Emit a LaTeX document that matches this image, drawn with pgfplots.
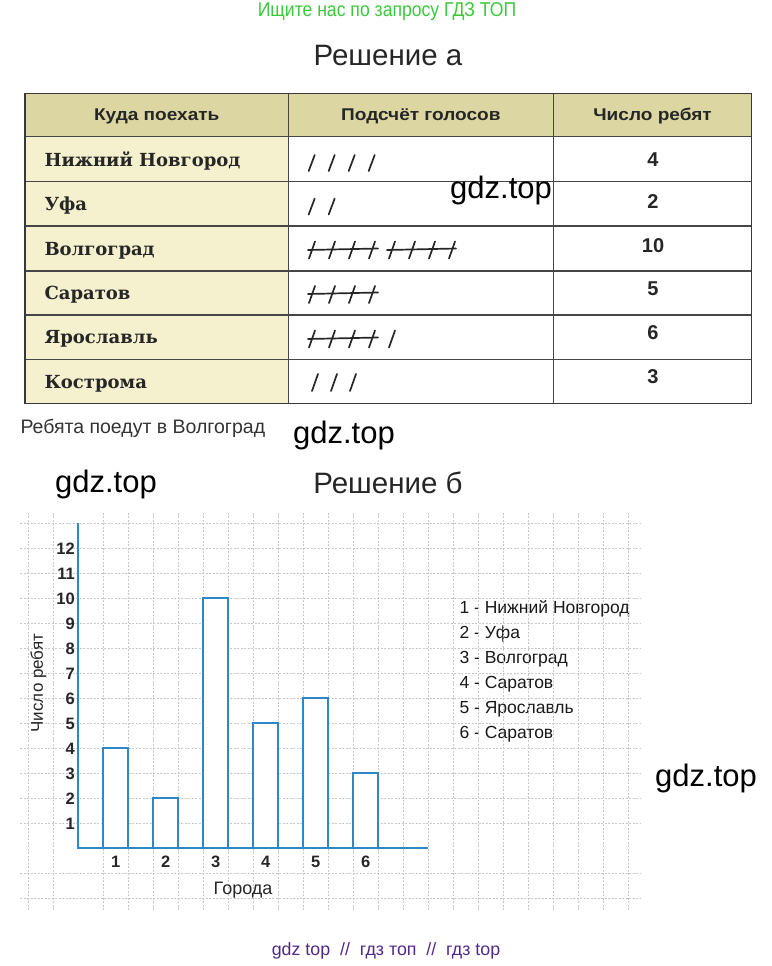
\documentclass[border=0pt]{standalone}
\usepackage{fontspec}
\setmainfont{Liberation Sans}
\newfontfamily\serifb{DejaVu Serif}
\newfontfamily\headf[FakeStretch=1.12]{Liberation Sans}
\newfontfamily\narrowf[FakeStretch=0.88]{Liberation Sans}
\usepackage{pgfplots}
\pgfplotsset{compat=1.18}

\definecolor{barblue}{RGB}{47,134,200}
\definecolor{gridgray}{RGB}{200,200,200}
\definecolor{hdr}{RGB}{220,215,162}
\definecolor{colone}{RGB}{245,240,205}
\definecolor{wmgreen}{RGB}{60,200,60}
\definecolor{purp}{RGB}{80,40,140}
\definecolor{lineg}{RGB}{70,70,70}
\newcommand\fs[1]{\fontsize{#1bp}{#1bp}\selectfont}

\begin{document}
\begin{tikzpicture}
\begin{scope}[x=1bp,y=-1bp]
\path[use as bounding box] (0,0) rectangle (772,966);

% top texts
\node[font=\narrowf\fs{20}, text=wmgreen] at (387,12) {Ищите нас по запросу ГДЗ ТОП};
\node[font=\fs{29.5}, text=black!85] at (388,55) {Решение а};

% table
\fill[hdr] (25,93.3) rectangle (751.7,136.7);
\fill[colone] (25,136.7) rectangle (288.3,403.3);
\foreach \yy in {136.7,181.7,226,271,315,359.3}
  \draw[lineg, line width=1.2] (25,\yy) -- (751.7,\yy);
\draw[lineg, line width=1.2] (288.3,93.3) -- (288.3,403.3);
\draw[lineg, line width=1.2] (553.3,93.3) -- (553.3,403.3);
\draw[lineg!80!black, line width=1.4] (25,93.3) rectangle (751.7,403.3);

\node[font=\headf\bfseries\fs{17}, text=black!85] at (156.7,116) {Куда поехать};
\node[font=\headf\bfseries\fs{17}, text=black!85] at (420.8,116) {Подсчёт голосов};
\node[font=\headf\bfseries\fs{17}, text=black!85] at (652.5,116) {Число ребят};

\begin{scope}[every node/.style={anchor=west, font=\serifb\bfseries\fs{18}, text=black!85}]
\node at (41,161.5) {Нижний Новгород};
\node at (41,206) {Уфа};
\node at (41,250.5) {Волгоград};
\node at (41,295) {Саратов};
\node at (41,339) {Ярославль};
\node at (41,383.5) {Кострома};
\end{scope}

\begin{scope}[every node/.style={font=\bfseries\fs{20}, text=black!85}]
\node at (653,159.5) {4};
\node at (653,202) {2};
\node at (653,245.5) {10};
\node at (653,289) {5};
\node at (653,333) {6};
\node at (653,377) {3};
\end{scope}

% tally marks
\begin{scope}[line width=1.7, black!85, line cap=round]
\foreach \cx in {311.7,331.7,351.7,371.7} \draw (\cx-3,171) -- (\cx+3,155);
\foreach \cx in {311.7,331.7} \draw (\cx-3,214.5) -- (\cx+3,198.5);
\foreach \cx in {312,332,352,372,392,412,432,452} \draw (\cx-3,258.5) -- (\cx+3,241.5);
\draw (308,250) -- (378,248.5);
\draw (387,250) -- (456,248.5);
\foreach \cx in {312,332,352,372} \draw (\cx-3,303) -- (\cx+3,286);
\draw (308,294) -- (378,292.5);
\foreach \cx in {312,332,352,372,392} \draw (\cx-3,347.5) -- (\cx+3,330.5);
\draw (308,339) -- (378,337.5);
\foreach \cx in {315,334,353} \draw (\cx-3,391) -- (\cx+3,374);
\end{scope}

\node[anchor=west, font=\fs{19.5}, text=black!80] at (17,428) {Ребята поедут в Волгоград};

% watermarks
\begin{scope}[every node/.style={font=\fs{31}, text=black}]
\node at (501,190) {gdz.top};
\node at (344,435) {gdz.top};
\node at (106,484) {gdz.top};
\node at (706,778) {gdz.top};
\end{scope}

\node[font=\fs{29.5}, text=black!85] at (388,483) {Решение б};

% legend of the chart
\begin{scope}[every node/.style={anchor=west, font=\fs{17.5}, text=black!90}]
\node at (456,609) {1 - Нижний Новгород};
\node at (456,634) {2 - Уфа};
\node at (456,659) {3 - Волгоград};
\node at (456,684) {4 - Саратов};
\node at (456,709) {5 - Ярославль};
\node at (456,734) {6 - Саратов};
\end{scope}

\node[font=\fs{17.8}, text=purp] at (386,951) {gdz top \ // \ гдз топ \ // \ гдз top};
\end{scope}

\begin{axis}[
  anchor=origin, at={(78.3bp,-848.3bp)},
  x=25bp, y=25bp,
  xmin=-2.33, xmax=22.47, ymin=-2.47, ymax=13.41,
  axis lines=middle,
  axis line style={draw=none},
  xtick={-2,...,22}, ytick={-2,...,13},
  xticklabels={}, yticklabels={},
  major tick length=0pt,
  tick style={draw=none},
  grid=major,
  grid style={gridgray, dash pattern=on 2bp off 1.5bp, line width=0.8bp},
  extra x ticks={1.5,3.5,5.5,7.5,9.5,11.5},
  extra x tick labels={1,2,3,4,5,6},
  extra y ticks={1,2,3,4,5,6,7,8,9,10,11,12},
  extra y tick labels={1,2,3,4,5,6,7,8,9,10,11,12},
  extra tick style={grid=none},
  ticklabel style={font=\bfseries\fs{16.5}, text=black!85, text height=12bp, text depth=0bp},
  xticklabel style={yshift=-4bp},
  clip=false,
]
\addplot[ybar, bar width=1, draw=barblue, fill=white, line width=1.8bp]
  coordinates {(1.5,4) (3.5,2) (5.5,10) (7.5,5) (9.5,6) (11.5,3)};
\addplot[barblue, line width=1.8bp, no marks] coordinates {(0,13) (0,0) (14,0)};
\node[font=\fs{18}, text=black!85] at (axis cs:6.59,-1.68) {Города};
\node[rotate=90, font=\fs{17}, text=black!85] at (axis cs:-1.6,6.61) {Число ребят};
\end{axis}
\end{tikzpicture}
\end{document}
